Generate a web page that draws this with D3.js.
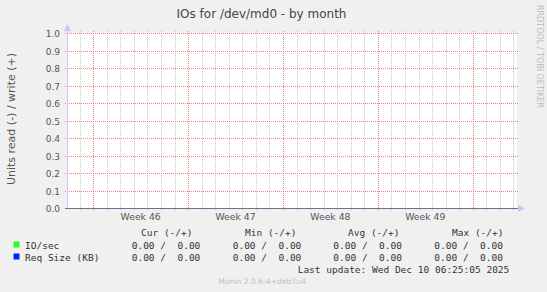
<!DOCTYPE html>
<html>
<head>
<meta charset="utf-8">
<script src="https://cdn.jsdelivr.net/npm/d3@7"></script>
<style>
  body { margin: 0; background: #f0f0f0; }
  svg { display: block; }
  text { font-family: "DejaVu Sans", sans-serif; }
  .mono { font-family: "DejaVu Sans Mono", monospace; white-space: pre; }
</style>
</head>
<body>
<div id="canvas"></div>
<script>
// chart data
var title = "IOs for /dev/md0 - by month";
var yLabel = "Units read (-) / write (+)";
var yTicks = [0.0, 0.1, 0.2, 0.3, 0.4, 0.5, 0.6, 0.7, 0.8, 0.9, 1.0];
var timeStart = new Date(Date.UTC(2025, 10, 7, 1, 35, 0));
var timeEnd = new Date(Date.UTC(2025, 11, 10, 6, 25, 5));
var weekStarts = [new Date(Date.UTC(2025, 10, 9)), new Date(Date.UTC(2025, 10, 16)),
                  new Date(Date.UTC(2025, 10, 23)), new Date(Date.UTC(2025, 10, 30)),
                  new Date(Date.UTC(2025, 11, 7))];
var weekLabels = ["Week 46", "Week 47", "Week 48", "Week 49"];
var sampleTimes = [timeStart, new Date(Date.UTC(2025, 10, 15)), new Date(Date.UTC(2025, 10, 25)),
                   new Date(Date.UTC(2025, 11, 5)), timeEnd];
var ioRead = [0, 0, 0, 0, 0];
var ioWrite = [0, 0, 0, 0, 0];
var reqRead = [0, 0, 0, 0, 0];
var reqWrite = [0, 0, 0, 0, 0];
var seriesNames = ["IO/sec", "Req Size (KB)"];
var seriesColors = ["#22ff22", "#0022ff"];
var legendHeaders = ["Cur (-/+)", "Min (-/+)", "Avg (-/+)", "Max (-/+)"];
var legendValues = [
    ["0.00 /  0.00", "0.00 /  0.00", "0.00 /  0.00", "0.00 /  0.00"],
    ["0.00 /  0.00", "0.00 /  0.00", "0.00 /  0.00", "0.00 /  0.00"]
];
var lastUpdate = "Last update: Wed Dec 10 06:25:05 2025";
var version = "Munin 2.0.6-4+deb7u4";

var width = 547, height = 292;
var plotL = 67, plotR = 517, plotT = 33, plotB = 208;

var svg = d3.select("#canvas").append("svg")
    .attr("width", width)
    .attr("height", height);

svg.append("rect").attr("width", width).attr("height", height).attr("fill", "#f0f0f0");

var x = d3.scaleUtc().domain([timeStart, timeEnd]).range([plotL, plotR]);
var y = d3.scaleLinear().domain([0, 1]).range([plotB, plotT]);

svg.append("rect")
    .attr("x", plotL).attr("y", plotT)
    .attr("width", plotR - plotL).attr("height", plotB - plotT)
    .attr("fill", "white");

var grid = svg.append("g").attr("shape-rendering", "crispEdges");

// minor grid: every day
var days = d3.utcDay.range(d3.utcDay.ceil(timeStart), timeEnd)
    .filter(function (d) { return d.getUTCDay() != 0; });
grid.selectAll(".minor").data(days).enter().append("line")
    .attr("x1", function (d) { return Math.round(x(d)) + 0.5; })
    .attr("x2", function (d) { return Math.round(x(d)) + 0.5; })
    .attr("y1", plotT - 2).attr("y2", plotB + 2)
    .style("stroke", "#c4c4c4")
    .style("stroke-dasharray", "1,1");

// major grid: weeks
grid.selectAll(".major").data(weekStarts).enter().append("line")
    .attr("x1", function (d) { return Math.round(x(d)) + 0.5; })
    .attr("x2", function (d) { return Math.round(x(d)) + 0.5; })
    .attr("y1", plotT - 2).attr("y2", plotB + 2)
    .style("stroke", "#ee8080")
    .style("stroke-dasharray", "1,1");

grid.selectAll(".hgrid").data(yTicks).enter().append("line")
    .attr("x1", plotL - 2).attr("x2", plotR + 2)
    .attr("y1", function (d) { return Math.round(y(d)) + 0.5; })
    .attr("y2", function (d) { return Math.round(y(d)) + 0.5; })
    .style("stroke", "#ee8080")
    .style("stroke-dasharray", "1,1");

// y tick labels
svg.append("g").selectAll("text").data(yTicks).enter().append("text")
    .attr("x", 60)
    .attr("y", function (d) { return Math.round(y(d)) + 3.5; })
    .attr("text-anchor", "end")
    .style("font-size", "9px")
    .style("fill", "#555")
    .text(function (d) { return d3.format(".1f")(d); });

// week labels, centred between week lines
svg.append("g").selectAll("text").data(weekLabels).enter().append("text")
    .attr("x", function (d, i) { return (x(weekStarts[i]) + x(weekStarts[i + 1])) / 2; })
    .attr("y", 219.5)
    .attr("text-anchor", "middle")
    .style("font-size", "9.3px")
    .style("fill", "#555")
    .text(function (d) { return d; });

// series (all at zero)
var line = d3.line()
    .x(function (d) { return x(d[0]); })
    .y(function (d) { return Math.round(y(d[1])) + 0.5; });
var series = [ioRead, ioWrite, reqRead, reqWrite];
series.forEach(function (vals, i) {
    svg.append("path")
        .datum(vals.map(function (v, j) { return [sampleTimes[j], v]; }))
        .attr("d", line)
        .style("fill", "none")
        .style("stroke", seriesColors[i < 2 ? 0 : 1]);
});

// axes
svg.append("line")
    .attr("x1", plotL + 0.5).attr("x2", plotL + 0.5)
    .attr("y1", plotB).attr("y2", plotT - 5)
    .style("stroke", "#c8c8f8");
svg.append("path")
    .attr("d", "M" + (plotL - 3) + "," + (plotT - 2) + "L" + (plotL + 0.5) + "," + (plotT - 9) + "L" + (plotL + 4) + "," + (plotT - 2) + "Z")
    .style("fill", "#c8c8f8");
svg.append("line")
    .attr("x1", plotL - 2).attr("x2", plotR + 2)
    .attr("y1", plotB + 0.5).attr("y2", plotB + 0.5)
    .style("stroke", "#707090");
svg.append("path")
    .attr("d", "M" + (plotR + 1) + "," + (plotB - 3) + "L" + (plotR + 8) + "," + (plotB + 0.5) + "L" + (plotR + 1) + "," + (plotB + 4) + "Z")
    .style("fill", "#c8c8f8");

// title and labels
svg.append("text")
    .attr("x", 261.5).attr("y", 18)
    .attr("text-anchor", "middle")
    .style("font-size", "12px")
    .style("fill", "#444")
    .text(title);

svg.append("text")
    .attr("transform", "translate(14.5,119) rotate(-90)")
    .attr("text-anchor", "middle")
    .style("font-size", "11px")
    .style("fill", "#555")
    .text(yLabel);

svg.append("text")
    .attr("transform", "translate(537,5) rotate(90)")
    .attr("text-anchor", "start")
    .style("font-size", "8px")
    .style("fill", "#bbb")
    .text("RRDTOOL / TOBI OETIKER");

// legend
var headerX = [141, 245, 348, 452];
var valueX = [131.7, 232.7, 333.3, 434.3];
var rowY = [249, 261];
var legend = svg.append("g").attr("class", "legend");

legend.selectAll(".hdr").data(legendHeaders).enter().append("text")
    .attr("class", "mono")
    .attr("x", function (d, i) { return headerX[i]; })
    .attr("y", 236)
    .style("font-size", "9.5px")
    .style("fill", "#333")
    .text(function (d) { return d; });

seriesNames.forEach(function (name, r) {
    legend.append("rect")
        .attr("x", 13.5).attr("y", rowY[r] - 7.5)
        .attr("width", 6).attr("height", 6)
        .style("fill", seriesColors[r]);
    legend.append("text")
        .attr("class", "mono")
        .attr("x", 25).attr("y", rowY[r])
        .style("font-size", "9.5px")
        .style("fill", "#333")
        .text(name);
    legend.selectAll(".v" + r).data(legendValues[r]).enter().append("text")
        .attr("class", "mono")
        .attr("x", function (d, i) { return valueX[i]; })
        .attr("y", rowY[r])
        .style("font-size", "9.5px")
        .style("fill", "#333")
        .text(function (d) { return d; });
});

legend.append("text")
    .attr("class", "mono")
    .attr("x", 509.3).attr("y", 273)
    .attr("text-anchor", "end")
    .style("font-size", "9.5px")
    .style("fill", "#333")
    .text(lastUpdate);

svg.append("text")
    .attr("x", 262).attr("y", 284)
    .attr("text-anchor", "middle")
    .style("font-size", "7.6px")
    .style("fill", "#c0c0c0")
    .text(version);
</script>
</body>
</html>
